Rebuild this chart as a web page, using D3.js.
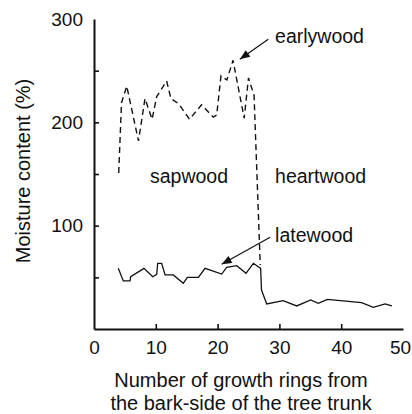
<!DOCTYPE html>
<html>
<head>
<meta charset="utf-8">
<script src="https://cdn.jsdelivr.net/npm/d3@7"></script>
<style>
  html, body { margin: 0; padding: 0; background: #fff; }
  svg text { font-family: "Liberation Sans", Arial, Helvetica, sans-serif; fill: #111; }
</style>
</head>
<body>
<svg id="chart" width="412" height="414"></svg>
<script>
// ---- data ----
const earlyRings    = [4.0, 4.45, 5.3, 7.2, 8.25, 9.4, 10.15, 11.75, 12.45, 13.7, 15.45, 17.4, 19.3, 19.85, 20.55, 21.5, 22.5, 24.3, 25.0, 25.9, 26.9];
const earlyMoisture = [151, 219, 235, 182, 223, 203, 225, 240, 223, 218, 203, 217, 205, 207, 245, 241, 260, 204, 243, 226, 62];

const lateRings    = [3.93, 4.74, 5.83, 5.94, 8.09, 9.5, 10.15, 10.3, 10.95, 11.5, 12.83, 14.45, 15.1, 16.9, 17.96, 20.66, 21.47, 23.1, 24.6, 25.78, 26.97, 27.1, 27.95, 30.6, 32.8, 35.06, 36.3, 37.75, 43.3, 45.2, 47.1, 48.2];
const lateMoisture = [58.7, 46.5, 46.5, 50.6, 58.7, 50.6, 52.9, 63.6, 63.6, 52.3, 52.3, 44.2, 50, 50, 58.7, 53.2, 59.7, 61.3, 53.9, 63.6, 58.7, 37.7, 24.2, 27.4, 22.3, 28.1, 24.9, 28.7, 25.5, 21, 24.2, 22.3];

const xTicks = [0, 10, 20, 30, 40, 50];
const yTicks = [50, 100, 150, 200, 250, 300];
const yTickLabels = [100, 200, 300];

const xTitle = ["Number of growth rings from", "the bark-side of the tree trunk"];
const yTitle = "Moisture content (%)";

// annotations in data units
const labels = [
  { text: "earlywood", x: 29.3, y: 276.5 },
  { text: "sapwood",   x: 9.06, y: 141 },
  { text: "heartwood", x: 29.3, y: 141 },
  { text: "latewood",  x: 29.3, y: 84.5 }
];
const arrows = [
  { x1: 28.2, y1: 280.4, x2: 23.6, y2: 261 },
  { x1: 28.5, y1: 88.7,  x2: 20.66, y2: 62.6 }
];

// ---- drawing ----
const svg = d3.select("#chart");
const x = d3.scaleLinear().domain([0, 50]).range([94, 403]);
const y = d3.scaleLinear().domain([0, 300]).range([329, 19]);

const ink = "#111";

// x axis
const gx = svg.append("g").attr("transform", `translate(0,${y(0)})`)
  .call(d3.axisBottom(x).tickValues(xTicks).tickSize(-5).tickSizeOuter(0).tickPadding(12).tickFormat(d3.format("d")));
gx.select(".domain").attr("stroke", ink).attr("stroke-width", 2);
gx.selectAll(".tick line").attr("stroke", ink).attr("stroke-width", 1.6)
  .attr("display", d => (d === 0 || d === 50) ? "none" : null);
gx.selectAll(".tick text").attr("font-size", 19).attr("font-family", null).attr("fill", ink)
  .attr("dx", d => d === 50 ? -3 : 0);

// y axis
const gy = svg.append("g").attr("transform", `translate(${x(0)},0)`)
  .call(d3.axisLeft(y).tickValues(yTicks).tickSize(-5).tickSizeOuter(0).tickPadding(11)
    .tickFormat(d => yTickLabels.includes(d) ? d : ""));
gy.select(".domain").attr("stroke", ink).attr("stroke-width", 2);
gy.selectAll(".tick line").attr("stroke", ink).attr("stroke-width", 1.6)
  .attr("display", d => d === 300 ? "none" : null);
gy.selectAll(".tick text").attr("font-size", 19).attr("font-family", null).attr("fill", ink);

// lines
const line = d3.line().x(d => x(d[0])).y(d => y(d[1]));
svg.append("path")
  .datum(earlyRings.map((r, i) => [r, earlyMoisture[i]]))
  .attr("d", line).attr("fill", "none").attr("stroke", ink)
  .attr("stroke-width", 1.4).attr("stroke-dasharray", "6,4");
svg.append("path")
  .datum(lateRings.map((r, i) => [r, lateMoisture[i]]))
  .attr("d", line).attr("fill", "none").attr("stroke", ink)
  .attr("stroke-width", 1.3);

// arrow marker
svg.append("defs").append("marker")
  .attr("id", "ah").attr("markerUnits", "userSpaceOnUse")
  .attr("viewBox", "0 0 10 8").attr("refX", 10).attr("refY", 4)
  .attr("markerWidth", 11).attr("markerHeight", 8).attr("orient", "auto")
  .append("path").attr("d", "M0,0 L10,4 L0,8 Z").attr("fill", ink);

svg.selectAll(".arrow").data(arrows).enter().append("line")
  .attr("x1", d => x(d.x1)).attr("y1", d => y(d.y1))
  .attr("x2", d => x(d.x2)).attr("y2", d => y(d.y2))
  .attr("stroke", ink).attr("stroke-width", 1.2).attr("marker-end", "url(#ah)");

svg.selectAll(".lbl").data(labels).enter().append("text")
  .attr("x", d => x(d.x)).attr("y", d => y(d.y))
  .attr("font-size", 19.5).text(d => d.text);

// titles
svg.append("text")
  .attr("transform", `translate(30,171) rotate(-90)`)
  .attr("text-anchor", "middle").attr("font-size", 20).text(yTitle);

svg.selectAll(".xt").data(xTitle).enter().append("text")
  .attr("x", 241).attr("y", (d, i) => 387 + i * 23)
  .attr("text-anchor", "middle").attr("font-size", 20).text(d => d);
</script>
</body>
</html>
